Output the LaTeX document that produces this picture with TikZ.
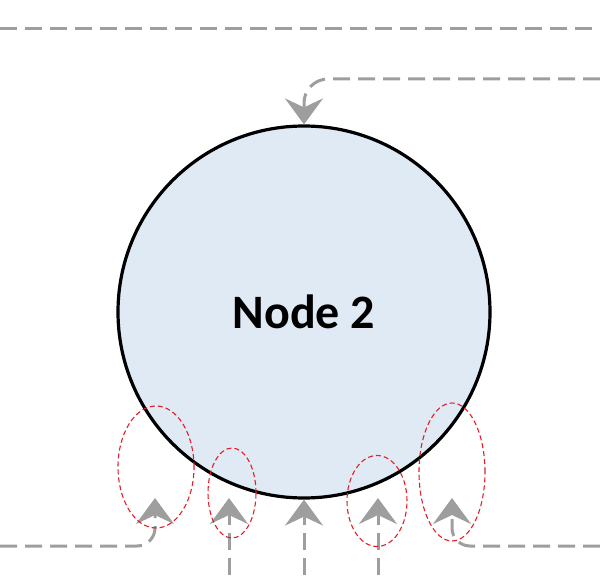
\documentclass[tikz,border=0pt]{standalone}
\usepackage{fontspec}
\setmainfont{Carlito}
\usetikzlibrary{arrows.meta,shapes.geometric}
\definecolor{flowgray}{RGB}{158,158,158}
\definecolor{nodeblue}{RGB}{223,234,245}
\definecolor{hlred}{RGB}{226,30,40}
\tikzset{
  flow/.style={draw=flowgray, line width=3pt, dash pattern=on 17pt off 8pt, -{Stealth[length=26pt, width=38pt, inset=9pt]}},
  link/.style={draw=flowgray, line width=3pt, dash pattern=on 17pt off 8pt},
  hl/.style={ellipse, draw=hlred, line width=1.1pt, dash pattern=on 5pt off 3pt, inner sep=0pt}
}
\begin{document}
\begin{tikzpicture}[x=1pt, y=-1pt]
\useasboundingbox (0,0) rectangle (600,583);
\node[circle, draw, line width=3.2pt, fill=nodeblue, minimum size=372pt, inner sep=0pt, font=\bfseries\fontsize{48}{56}\selectfont] (node2) at (304,312){Node 2};
\coordinate (la) at (0,29);
\coordinate (lb) at (600,29);
\coordinate (in0) at (600,79);
\coordinate (s1) at (0,546);
\coordinate (t1) at (155,498);
\coordinate (s2) at (229,600);
\coordinate (t2) at (229,498);
\coordinate (s3) at (304,600);
\coordinate (s4) at (378,600);
\coordinate (t4) at (378,498);
\coordinate (s5) at (600,546);
\coordinate (t5) at (452,498);
\draw[link](la) -- (lb);
\draw[flow, rounded corners=24pt](in0) -| (node2.north);
\draw[flow, rounded corners=18pt](s1) -| (t1);
\draw[flow](s2) -- (t2);
\draw[flow](s3) -- (node2.south);
\draw[flow](s4) -- (t4);
\draw[flow, rounded corners=18pt](s5) -| (t5);
\node[hl, minimum width=76pt, minimum height=122pt] (hl1) at (156,467){};
\node[hl, minimum width=48pt, minimum height=90pt] (hl2) at (232,493){};
\node[hl, minimum width=60pt, minimum height=91pt] (hl3) at (377,501){};
\node[hl, minimum width=66pt, minimum height=138pt] (hl4) at (452,472){};
\end{tikzpicture}
\end{document}
